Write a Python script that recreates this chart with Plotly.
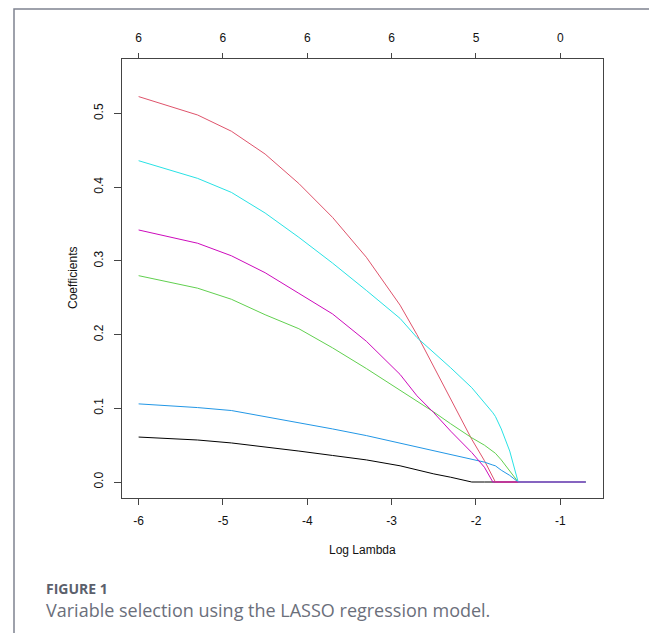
import plotly.graph_objects as go

# ---- data ----
log_lambda = [-6.0, -5.3, -4.9, -4.5, -4.1, -3.7, -3.3, -2.9, -2.7, -2.5, -2.3,
              -2.05, -1.9, -1.8, -1.77, -1.7, -1.6, -1.5, -0.7]

coef_black = [0.061, 0.057, 0.053, 0.048, 0.042, 0.036, 0.030, 0.022, 0.016, 0.011, 0.0065,
              0.0, 0.0, 0.0, 0.0, 0.0, 0.0, 0.0, 0.0]
coef_pink = [0.523, 0.498, 0.476, 0.445, 0.405, 0.359, 0.305, 0.240, 0.200, 0.156, 0.112,
             0.058, 0.029, 0.006, 0.0, 0.0, 0.0, 0.0, 0.0]
coef_green = [0.280, 0.263, 0.248, 0.227, 0.208, 0.182, 0.154, 0.125, 0.110, 0.095, 0.079,
              0.060, 0.050, 0.042, 0.039, 0.030, 0.015, 0.0, 0.0]
coef_blue = [0.106, 0.101, 0.097, 0.089, 0.080, 0.072, 0.063, 0.053, 0.047, 0.043, 0.038,
             0.031, 0.027, 0.023, 0.022, 0.016, 0.009, 0.0, 0.0]
coef_cyan = [0.436, 0.412, 0.393, 0.365, 0.332, 0.297, 0.260, 0.222, 0.196, 0.176, 0.155,
             0.128, 0.108, 0.094, 0.089, 0.072, 0.042, 0.0, 0.0]
coef_magenta = [0.342, 0.324, 0.307, 0.284, 0.256, 0.228, 0.191, 0.146, 0.117, 0.094, 0.069,
                0.040, 0.020, 0.0, 0.0, 0.0, 0.0, 0.0, 0.0]

series = [coef_black, coef_pink, coef_green, coef_blue, coef_cyan, coef_magenta]
colors = ["#000000", "#DF536B", "#61D04F", "#2297E6", "#28E2E5", "#CD0BBC"]

x_ticks = [-6, -5, -4, -3, -2, -1]
x_tick_labels = ["-6", "-5", "-4", "-3", "-2", "-1"]
top_tick_labels = ["6", "6", "6", "6", "5", "0"]
y_ticks = [0.0, 0.1, 0.2, 0.3, 0.4, 0.5]
y_tick_labels = ["0.0", "0.1", "0.2", "0.3", "0.4", "0.5"]

# ---- layout geometry (page pixels; the page body adds an 8px offset) ----
OFF = 8
W, H = 657 - OFF, 633 - OFF
L, R, T, B = 122 - OFF, 54, 59 - OFF, 135
PW, PH = W - L - R, H - T - B


def px(x):
    return (x - OFF - L) / PW


def py(y):
    return (H - B - (y - OFF)) / PH


fig = go.Figure()
for vals, col in zip(series, colors):
    fig.add_trace(go.Scatter(x=log_lambda, y=vals, mode="lines",
                             line=dict(color=col, width=1),
                             showlegend=False, hoverinfo="skip"))
# invisible trace for top axis
fig.add_trace(go.Scatter(x=[log_lambda[0]], y=[0], xaxis="x2", mode="markers",
                         marker=dict(opacity=0), showlegend=False, hoverinfo="skip"))

axis_font = dict(family="Liberation Sans, Arial, sans-serif", size=12, color="#111111")
xr = [-6.197, -0.494]

fig.update_layout(
    width=W, height=H,
    margin=dict(l=L, r=R, t=T, b=B, pad=0),
    paper_bgcolor="white", plot_bgcolor="white",
    xaxis=dict(range=xr, tickvals=x_ticks, ticktext=x_tick_labels,
               ticks="outside", ticklen=6, tickcolor="#444444", tickwidth=1,
               showline=True, linecolor="#444444", linewidth=1, mirror=True,
               showgrid=False, zeroline=False, tickfont=axis_font,
               ticklabelstandoff=6),
    xaxis2=dict(range=xr, overlaying="x", side="top", tickvals=x_ticks,
                ticktext=top_tick_labels, ticks="outside", ticklen=5,
                tickcolor="#444444", tickwidth=1, showline=False,
                showgrid=False, zeroline=False, tickfont=axis_font,
                ticklabelstandoff=6),
    yaxis=dict(range=[-0.0217, 0.574], tickvals=y_ticks, ticktext=y_tick_labels,
               tickangle=-90, ticks="outside", ticklen=7, tickcolor="#444444",
               tickwidth=1, showline=True, linecolor="#444444", linewidth=1,
               mirror=True, showgrid=False, zeroline=False, tickfont=axis_font,
               ticklabelstandoff=6),
    shapes=[dict(type="rect", xref="paper", yref="paper",
                 x0=px(14), x1=px(652), y0=py(660), y1=py(9),
                 line=dict(color="#7f8390", width=1.5), fillcolor="rgba(0,0,0,0)",
                 layer="below")],
    annotations=[
        dict(text="Log Lambda", xref="paper", yref="paper", x=px(362), y=py(550),
             showarrow=False, font=axis_font, xanchor="center", yanchor="middle"),
        dict(text="Coefficients", xref="paper", yref="paper", x=px(73), y=py(278),
             showarrow=False, font=axis_font, textangle=-90,
             xanchor="center", yanchor="middle"),
        dict(text="<b>FIGURE 1</b>", xref="paper", yref="paper", x=px(44), y=py(588),
             showarrow=False, xanchor="left", yanchor="middle",
             font=dict(family="Open Sans, Lato, sans-serif", size=14, color="#5b606c")),
        dict(text="Variable selection using the LASSO regression model.", xref="paper",
             yref="paper", x=px(44), y=py(610), showarrow=False, xanchor="left",
             yanchor="middle",
             font=dict(family="Open Sans, Lato, sans-serif", size=18, color="#6b6f7b")),
    ],
)

fig.write_html("out.html")
